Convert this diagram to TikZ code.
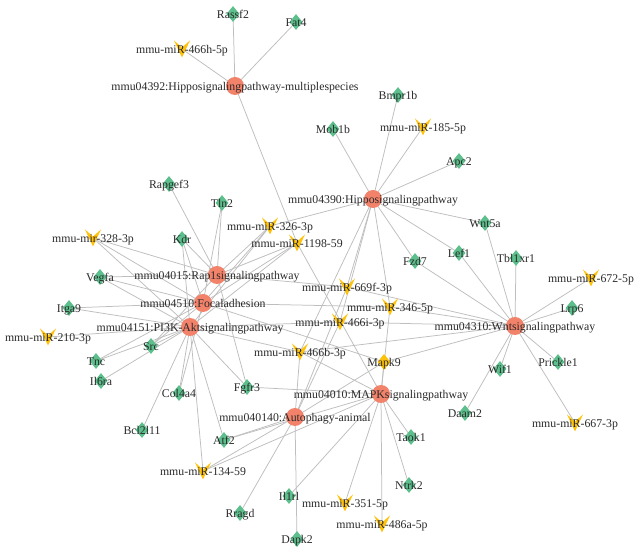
\documentclass[tikz,border=0pt]{standalone}
\usepackage{fontspec}
\setmainfont{Liberation Serif}
\usetikzlibrary{shapes.geometric,backgrounds}
\definecolor{pwc}{HTML}{F2826A}
\definecolor{genec}{HTML}{5CBF8C}
\definecolor{mirc}{HTML}{FFC20A}
\definecolor{edgec}{HTML}{BEBEBE}
\definecolor{txtc}{HTML}{2A2A2A}
\begin{document}
\begin{tikzpicture}[x=1pt,y=-1pt,
 pw/.style={circle,fill=pwc,minimum size=18pt,inner sep=0pt},
 gene/.style={diamond,fill=genec,minimum width=13pt,minimum height=16pt,inner sep=0pt},
 ygene/.style={gene,fill=mirc},
 mir/.style={inner sep=0pt,minimum width=18pt,minimum height=20pt,
   path picture={\fill[mirc] ([shift={(-8pt,8.5pt)}]path picture bounding box.center)
     -- ([shift={(0pt,1.5pt)}]path picture bounding box.center)
     -- ([shift={(8pt,8.5pt)}]path picture bounding box.center)
     -- ([shift={(0pt,-8.5pt)}]path picture bounding box.center) -- cycle;}},
 lbl/.style={anchor=base,yshift=-4.2pt,inner sep=0pt,text=txtc,font=\fontsize{11.8}{12}\selectfont},
 edge/.style={draw=edgec,line width=0.75pt}
]
\useasboundingbox (0,0) rectangle (641,553);
% pathways
\node[pw] (hm) at (235,86) {};
\node[pw] (hp) at (373,199) {};
\node[pw] (rap) at (217,275) {};
\node[pw] (foc) at (203,303) {};
\node[pw] (pik) at (190,327) {};
\node[pw] (wnt) at (515,326) {};
\node[pw] (mapk) at (381,394) {};
\node[pw] (aut) at (295,417) {};
% genes
\node[gene] (rassf2) at (233,14) {};
\node[gene] (fat4) at (296,22) {};
\node[gene] (mob1b) at (333,129) {};
\node[gene] (bmpr1b) at (398,95) {};
\node[gene] (apc2) at (459,161) {};
\node[gene] (rapgef3) at (169,184) {};
\node[gene] (tln2) at (222,203) {};
\node[gene] (kdr) at (182,239) {};
\node[gene] (vegfa) at (100,277) {};
\node[gene] (itga9) at (69,308) {};
\node[gene] (src) at (151,346) {};
\node[gene] (tnc) at (96,361) {};
\node[gene] (il6ra) at (101,381) {};
\node[gene] (col4a4) at (179,393) {};
\node[gene] (bcl2l11) at (142,430) {};
\node[gene] (atf2) at (224,440) {};
\node[gene] (fgfr3) at (247,387) {};
\node[ygene] (mapk9) at (384,362) {};
\node[gene] (wnt5a) at (485,223) {};
\node[gene] (fzd7) at (415,261) {};
\node[gene] (lef1) at (459,253) {};
\node[gene] (tbl1xr1) at (516,258) {};
\node[gene] (lrp6) at (572,308) {};
\node[gene] (wif1) at (500,369) {};
\node[gene] (prickle1) at (558,362) {};
\node[gene] (daam2) at (465,413) {};
\node[gene] (taok1) at (411,437) {};
\node[gene] (ntrk2) at (409,485) {};
\node[gene] (il1rl) at (289,496) {};
\node[gene] (rragd) at (240,513) {};
\node[gene] (dapk2) at (297,539) {};
% miRNAs
\node[mir] (m466h) at (182,49) {};
\node[mir] (m185) at (423,127) {};
\node[mir] (m328) at (93,238) {};
\node[mir] (m326) at (270,226) {};
\node[mir] (m1198) at (297,243) {};
\node[mir] (m669f) at (347,287) {};
\node[mir] (m346) at (390,307) {};
\node[mir] (m466i) at (340,322) {};
\node[mir] (m210) at (48,337) {};
\node[mir] (m466b) at (300,352) {};
\node[mir] (m134) at (203,471) {};
\node[mir] (m351) at (345,503) {};
\node[mir] (m486a) at (382,524) {};
\node[mir] (m672) at (591,278) {};
\node[mir] (m667) at (575,423) {};
% edges
\begin{pgfonlayer}{background}
\fill[white] (0,0) rectangle (641,553);
\foreach \a/\b in {hm/rassf2,hm/fat4,hm/m466h,hm/m1198,
 hp/mob1b,hp/bmpr1b,hp/m185,hp/apc2,hp/wnt5a,hp/lef1,hp/fzd7,hp/m326,hp/m669f,hp/m346,hp/m466i,hp/m466b,
 rap/rapgef3,rap/tln2,rap/kdr,rap/vegfa,rap/m328,rap/src,rap/fgfr3,rap/m326,rap/m1198,rap/m669f,
 foc/tln2,foc/kdr,foc/vegfa,foc/itga9,foc/src,foc/tnc,foc/col4a4,foc/m328,foc/m326,foc/m1198,foc/m346,foc/mapk9,
 pik/kdr,pik/vegfa,pik/itga9,pik/src,pik/tnc,pik/il6ra,pik/col4a4,pik/bcl2l11,pik/atf2,pik/fgfr3,pik/m328,pik/m210,pik/m326,pik/m1198,pik/m466i,pik/m466b,pik/m134,
 wnt/wnt5a,wnt/lef1,wnt/fzd7,wnt/tbl1xr1,wnt/m672,wnt/lrp6,wnt/prickle1,wnt/wif1,wnt/daam2,wnt/m667,wnt/m669f,wnt/m346,wnt/m466i,wnt/m466b,wnt/mapk9,
 mapk/mapk9,mapk/taok1,mapk/ntrk2,mapk/m351,mapk/m486a,mapk/il1rl,mapk/fgfr3,mapk/atf2,mapk/m134,mapk/m466b,mapk/m346,mapk/m1198,
 aut/dapk2,aut/rragd,aut/atf2,aut/mapk9,aut/m466i,aut/m466b,aut/m669f,aut/m134}
 \draw[edge] (\a.center) -- (\b.center);
\end{pgfonlayer}
% labels
\node[lbl] (hm-l) at (hm) {mmu04392:Hipposignalingpathway-multiplespecies};
\node[lbl] (hp-l) at (hp) {mmu04390:Hipposignalingpathway};
\node[lbl] (rap-l) at (rap) {mmu04015:Rap1signalingpathway};
\node[lbl] (foc-l) at (foc) {mmu04510:Focaladhesion};
\node[lbl] (pik-l) at (pik) {mmu04151:PI3K-Aktsignalingpathway};
\node[lbl] (wnt-l) at (wnt) {mmu04310:Wntsignalingpathway};
\node[lbl] (mapk-l) at (mapk) {mmu04010:MAPKsignalingpathway};
\node[lbl] (aut-l) at (aut) {mmu040140:Autophagy-animal};
\node[lbl] (rassf2-l) at (rassf2) {Rassf2};
\node[lbl] (fat4-l) at (fat4) {Fat4};
\node[lbl] (mob1b-l) at (mob1b) {Mob1b};
\node[lbl] (bmpr1b-l) at (bmpr1b) {Bmpr1b};
\node[lbl] (apc2-l) at (apc2) {Apc2};
\node[lbl] (rapgef3-l) at (rapgef3) {Rapgef3};
\node[lbl] (tln2-l) at (tln2) {Tln2};
\node[lbl] (kdr-l) at (kdr) {Kdr};
\node[lbl] (vegfa-l) at (vegfa) {Vegfa};
\node[lbl] (itga9-l) at (itga9) {Itga9};
\node[lbl] (src-l) at (src) {Src};
\node[lbl] (tnc-l) at (tnc) {Tnc};
\node[lbl] (il6ra-l) at (il6ra) {Il6ra};
\node[lbl] (col4a4-l) at (col4a4) {Col4a4};
\node[lbl] (bcl2l11-l) at (bcl2l11) {Bcl2l11};
\node[lbl] (atf2-l) at (atf2) {Atf2};
\node[lbl] (fgfr3-l) at (fgfr3) {Fgfr3};
\node[lbl] (mapk9-l) at (mapk9) {Mapk9};
\node[lbl] (wnt5a-l) at (wnt5a) {Wnt5a};
\node[lbl] (fzd7-l) at (fzd7) {Fzd7};
\node[lbl] (lef1-l) at (lef1) {Lef1};
\node[lbl] (tbl1xr1-l) at (tbl1xr1) {Tbl1xr1};
\node[lbl] (lrp6-l) at (lrp6) {Lrp6};
\node[lbl] (wif1-l) at (wif1) {Wif1};
\node[lbl] (prickle1-l) at (prickle1) {Prickle1};
\node[lbl] (daam2-l) at (daam2) {Daam2};
\node[lbl] (taok1-l) at (taok1) {Taok1};
\node[lbl] (ntrk2-l) at (ntrk2) {Ntrk2};
\node[lbl] (il1rl-l) at (il1rl) {Il1rl};
\node[lbl] (rragd-l) at (rragd) {Rragd};
\node[lbl] (dapk2-l) at (dapk2) {Dapk2};
\node[lbl] (m466h-l) at (m466h) {mmu-miR-466h-5p};
\node[lbl] (m185-l) at (m185) {mmu-miR-185-5p};
\node[lbl] (m328-l) at (m328) {mmu-mir-328-3p};
\node[lbl] (m326-l) at (m326) {mmu-miR-326-3p};
\node[lbl] (m1198-l) at (m1198) {mmu-miR-1198-59};
\node[lbl] (m669f-l) at (m669f) {mmu-miR-669f-3p};
\node[lbl] (m346-l) at (m346) {mmu-miR-346-5p};
\node[lbl] (m466i-l) at (m466i) {mmu-miR-466i-3p};
\node[lbl] (m210-l) at (m210) {mmu-miR-210-3p};
\node[lbl] (m466b-l) at (m466b) {mmu-miR-466b-3p};
\node[lbl] (m134-l) at (m134) {mmu-miR-134-59};
\node[lbl] (m351-l) at (m351) {mmu-miR-351-5p};
\node[lbl] (m486a-l) at (m486a) {mmu-miR-486a-5p};
\node[lbl] (m672-l) at (m672) {mmu-miR-672-5p};
\node[lbl] (m667-l) at (m667) {mmu-miR-667-3p};
\end{tikzpicture}
\end{document}
